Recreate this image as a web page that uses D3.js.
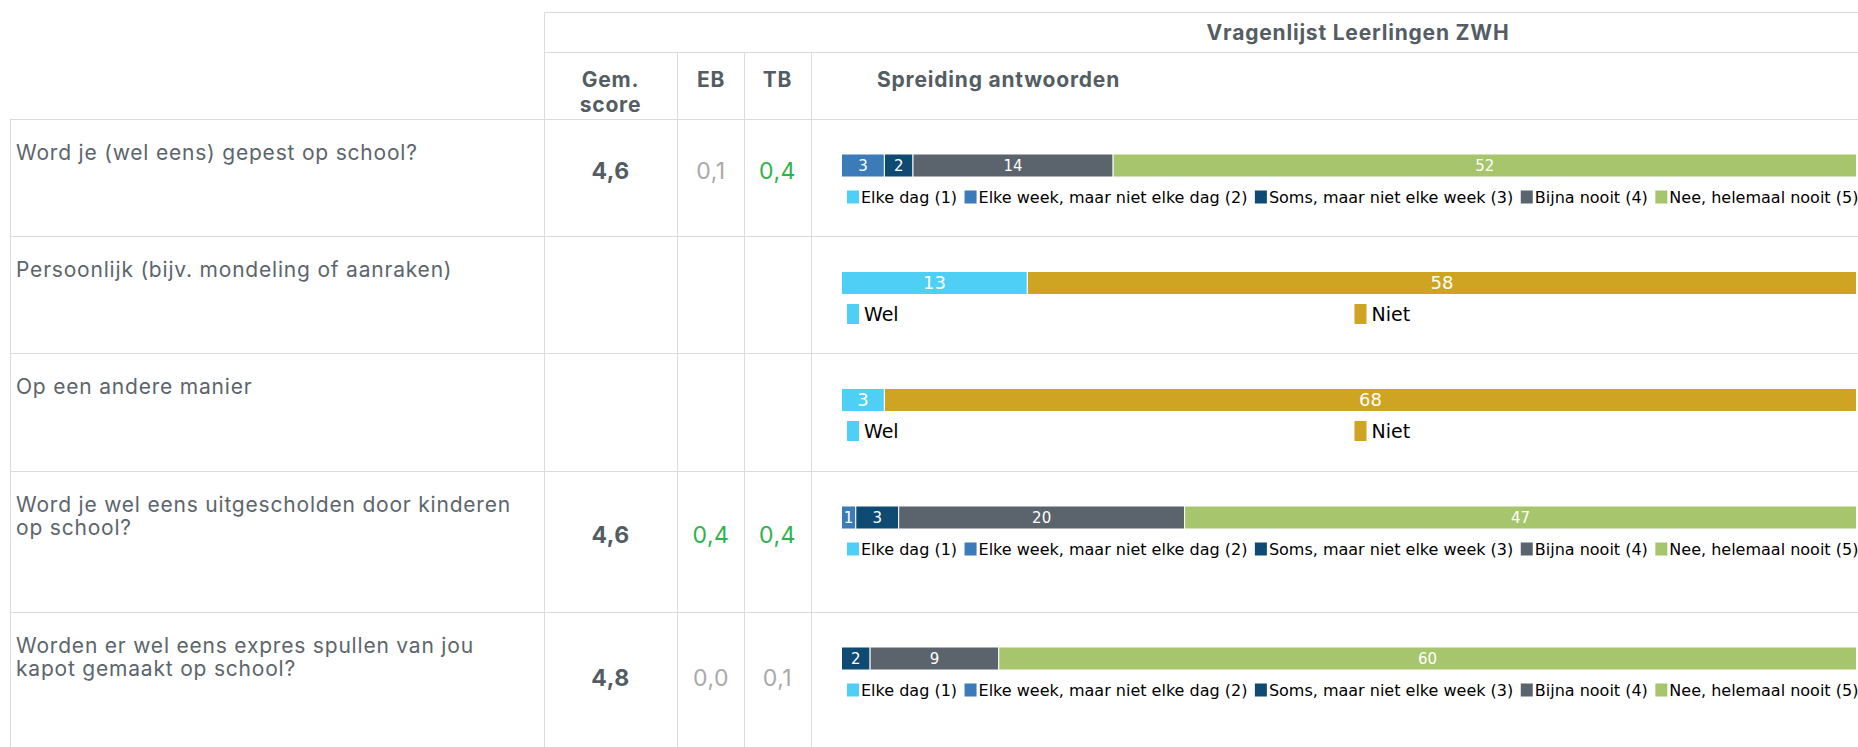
<!DOCTYPE html>
<html>
<head>
<meta charset="utf-8">
<script src="https://cdn.jsdelivr.net/npm/d3@7"></script>
<style>
  body { margin: 0; background: #fff; }
  svg { display: block; }
</style>
</head>
<body>
<svg></svg>
<script>
// SVG size
var width = 1858;
var height = 747;
var svg = d3.select("svg").attr("width", width).attr("height", height);

// Data
var title = "Vragenlijst Leerlingen ZWH";
var questions = [
    ["Word je (wel eens) gepest op school?"],
    ["Persoonlijk (bijv. mondeling of aanraken)"],
    ["Op een andere manier"],
    ["Word je wel eens uitgescholden door kinderen", "op school?"],
    ["Worden er wel eens expres spullen van jou", "kapot gemaakt op school?"]
];
var gemScores = [4.6, null, null, 4.6, 4.8];
var ebValues = [0.1, null, null, 0.4, 0.0];
var tbValues = [0.4, null, null, 0.4, 0.1];
var freqLabels = ["Elke dag (1)", "Elke week, maar niet elke dag (2)", "Soms, maar niet elke week (3)", "Bijna nooit (4)", "Nee, helemaal nooit (5)"];
var yesNoLabels = ["Wel", "Niet"];
var answerTypes = ["freq", "yesno", "yesno", "freq", "freq"];
var answerCounts = [
    [0, 3, 2, 14, 52],
    [13, 58],
    [3, 68],
    [0, 1, 3, 20, 47],
    [0, 0, 2, 9, 60]
];

// Styles
var freqColors = ["#4dcff6", "#3b7bb7", "#0e4a72", "#5b636d", "#a6c56c"];
var yesNoColors = ["#4dcff6", "#cea422"];
var lineColor = "#dcdcdc";
var headColor = "#545d64";
var textColor = "#5c656c";
var headFont = "Inter, 'Open Sans', sans-serif";
var chartFont = "'DejaVu Sans', Verdana, sans-serif";

// Layout
var rowHeights = [117.5, 117, 117.5, 141, 144];
var firstRowTop = 118.5;
var colX = [10.5, 544.5, 677.5, 744.5, 811.5];
var barX0 = 841.5, barX1 = 1856.5;
var barOffset = 35.5, barHeight = 23;

var rowTops = [];
rowHeights.reduce(function (acc, h) { rowTops.push(acc); return acc + h; }, firstRowTop);

var nl = d3.formatLocale({ decimal: ",", thousands: ".", grouping: [3], currency: ["€", ""] });
var fmt = nl.format(".1f");

// Grid lines
var grid = svg.append("g").attr("stroke", lineColor).attr("stroke-width", 1);
grid.append("line").attr("x1", colX[1]).attr("x2", width).attr("y1", 12.5).attr("y2", 12.5);
grid.append("line").attr("x1", colX[1]).attr("x2", width).attr("y1", 52.5).attr("y2", 52.5);
rowTops.forEach(function (t) {
    grid.append("line").attr("x1", colX[0]).attr("x2", width)
        .attr("y1", Math.round(t) + 0.5).attr("y2", Math.round(t) + 0.5);
});
grid.append("line").attr("x1", colX[0]).attr("x2", colX[0]).attr("y1", firstRowTop).attr("y2", height);
grid.append("line").attr("x1", colX[1]).attr("x2", colX[1]).attr("y1", 12.5).attr("y2", height);
colX.slice(2).forEach(function (x) {
    grid.append("line").attr("x1", x).attr("x2", x).attr("y1", 52.5).attr("y2", height);
});

// Header
var head = svg.append("g").attr("font-family", headFont).attr("font-weight", 700)
    .attr("font-size", "21px").attr("letter-spacing", "0.8px").attr("fill", headColor);
head.append("text").attr("x", 1358).attr("y", 40).attr("text-anchor", "middle").text(title);
head.append("text").attr("x", 610.5).attr("y", 87).attr("text-anchor", "middle").text("Gem.");
head.append("text").attr("x", 610.5).attr("y", 111.5).attr("text-anchor", "middle").text("score");
head.append("text").attr("x", 711).attr("y", 87).attr("text-anchor", "middle").text("EB");
head.append("text").attr("x", 777.5).attr("y", 87).attr("text-anchor", "middle").text("TB");
head.append("text").attr("x", 877).attr("y", 87).text("Spreiding antwoorden");

function devColor(v) { return v >= 0.2 ? "#2eb24b" : "#a9a9a9"; }

// Rows
questions.forEach(function (lines, i) {
    var top = rowTops[i];
    var mid = top + rowHeights[i] / 2 + 2;
    var row = svg.append("g");

    // question
    var q = row.append("text").attr("x", 16).attr("y", top + 41)
        .attr("font-family", headFont).attr("font-size", "21px").attr("letter-spacing", "0.8px")
        .attr("fill", textColor);
    lines.forEach(function (l, j) {
        q.append("tspan").attr("x", 16).attr("dy", j === 0 ? 0 : 23).text(l);
    });

    // scores
    if (gemScores[i] != null) {
        var sc = row.append("g").attr("font-family", headFont).attr("font-size", "23px")
            .attr("letter-spacing", "0.5px").attr("text-anchor", "middle");
        sc.append("text").attr("x", 610.5).attr("y", mid).attr("font-weight", 700)
            .attr("fill", headColor).text(fmt(gemScores[i]));
        sc.append("text").attr("x", 711).attr("y", mid)
            .attr("fill", devColor(ebValues[i])).text(fmt(ebValues[i]));
        sc.append("text").attr("x", 777.5).attr("y", mid)
            .attr("fill", devColor(tbValues[i])).text(fmt(tbValues[i]));
    }

    // stacked bar
    var counts = answerCounts[i];
    var isFreq = answerTypes[i] === "freq";
    var colors = isFreq ? freqColors : yesNoColors;
    var labels = isFreq ? freqLabels : yesNoLabels;
    var x = d3.scaleLinear().domain([0, d3.sum(counts)]).range([barX0, barX1]);
    var stack = [];
    counts.reduce(function (acc, v, k) { stack.push({ k: k, v: v, x0: acc, x1: acc + v }); return acc + v; }, 0);
    var by = top + barOffset;

    var segs = row.selectAll("g.seg").data(stack.filter(function (d) { return d.v > 0; }))
        .enter().append("g").attr("class", "seg");
    segs.append("rect")
        .attr("x", function (d) { return x(d.x0); })
        .attr("y", by)
        .attr("width", function (d) { return x(d.x1) - x(d.x0); })
        .attr("height", barHeight)
        .attr("fill", function (d) { return colors[d.k]; })
        .attr("stroke", "#ffffff").attr("stroke-width", 1);
    var fs = isFreq ? 15 : 18;
    segs.append("text")
        .attr("x", function (d) { return (x(d.x0) + x(d.x1)) / 2; })
        .attr("y", by + barHeight / 2 + fs * 0.36)
        .attr("text-anchor", "middle")
        .attr("font-family", chartFont).attr("font-size", fs + "px")
        .attr("fill", "#ffffff")
        .text(function (d) { return d.v; });

    // legend
    var leg = row.append("g").attr("font-family", chartFont).attr("fill", "#000");
    if (isFreq) {
        var lx = 847;
        labels.forEach(function (lab, k) {
            leg.append("rect").attr("x", lx).attr("y", top + 72).attr("width", 12).attr("height", 13)
                .attr("fill", colors[k]);
            var t = leg.append("text").attr("x", lx + 14).attr("y", top + 84)
                .attr("font-size", "16px").text(lab);
            lx += 14 + t.node().getComputedTextLength() + 7.5;
        });
    } else {
        labels.forEach(function (lab, k) {
            var lx = 847 + k * (barX1 - barX0) / 2;
            leg.append("rect").attr("x", lx).attr("y", top + 68).attr("width", 12).attr("height", 20)
                .attr("fill", colors[k]);
            leg.append("text").attr("x", lx + 17).attr("y", top + 85)
                .attr("font-size", "19px").text(lab);
        });
    }
});
</script>
</body>
</html>
